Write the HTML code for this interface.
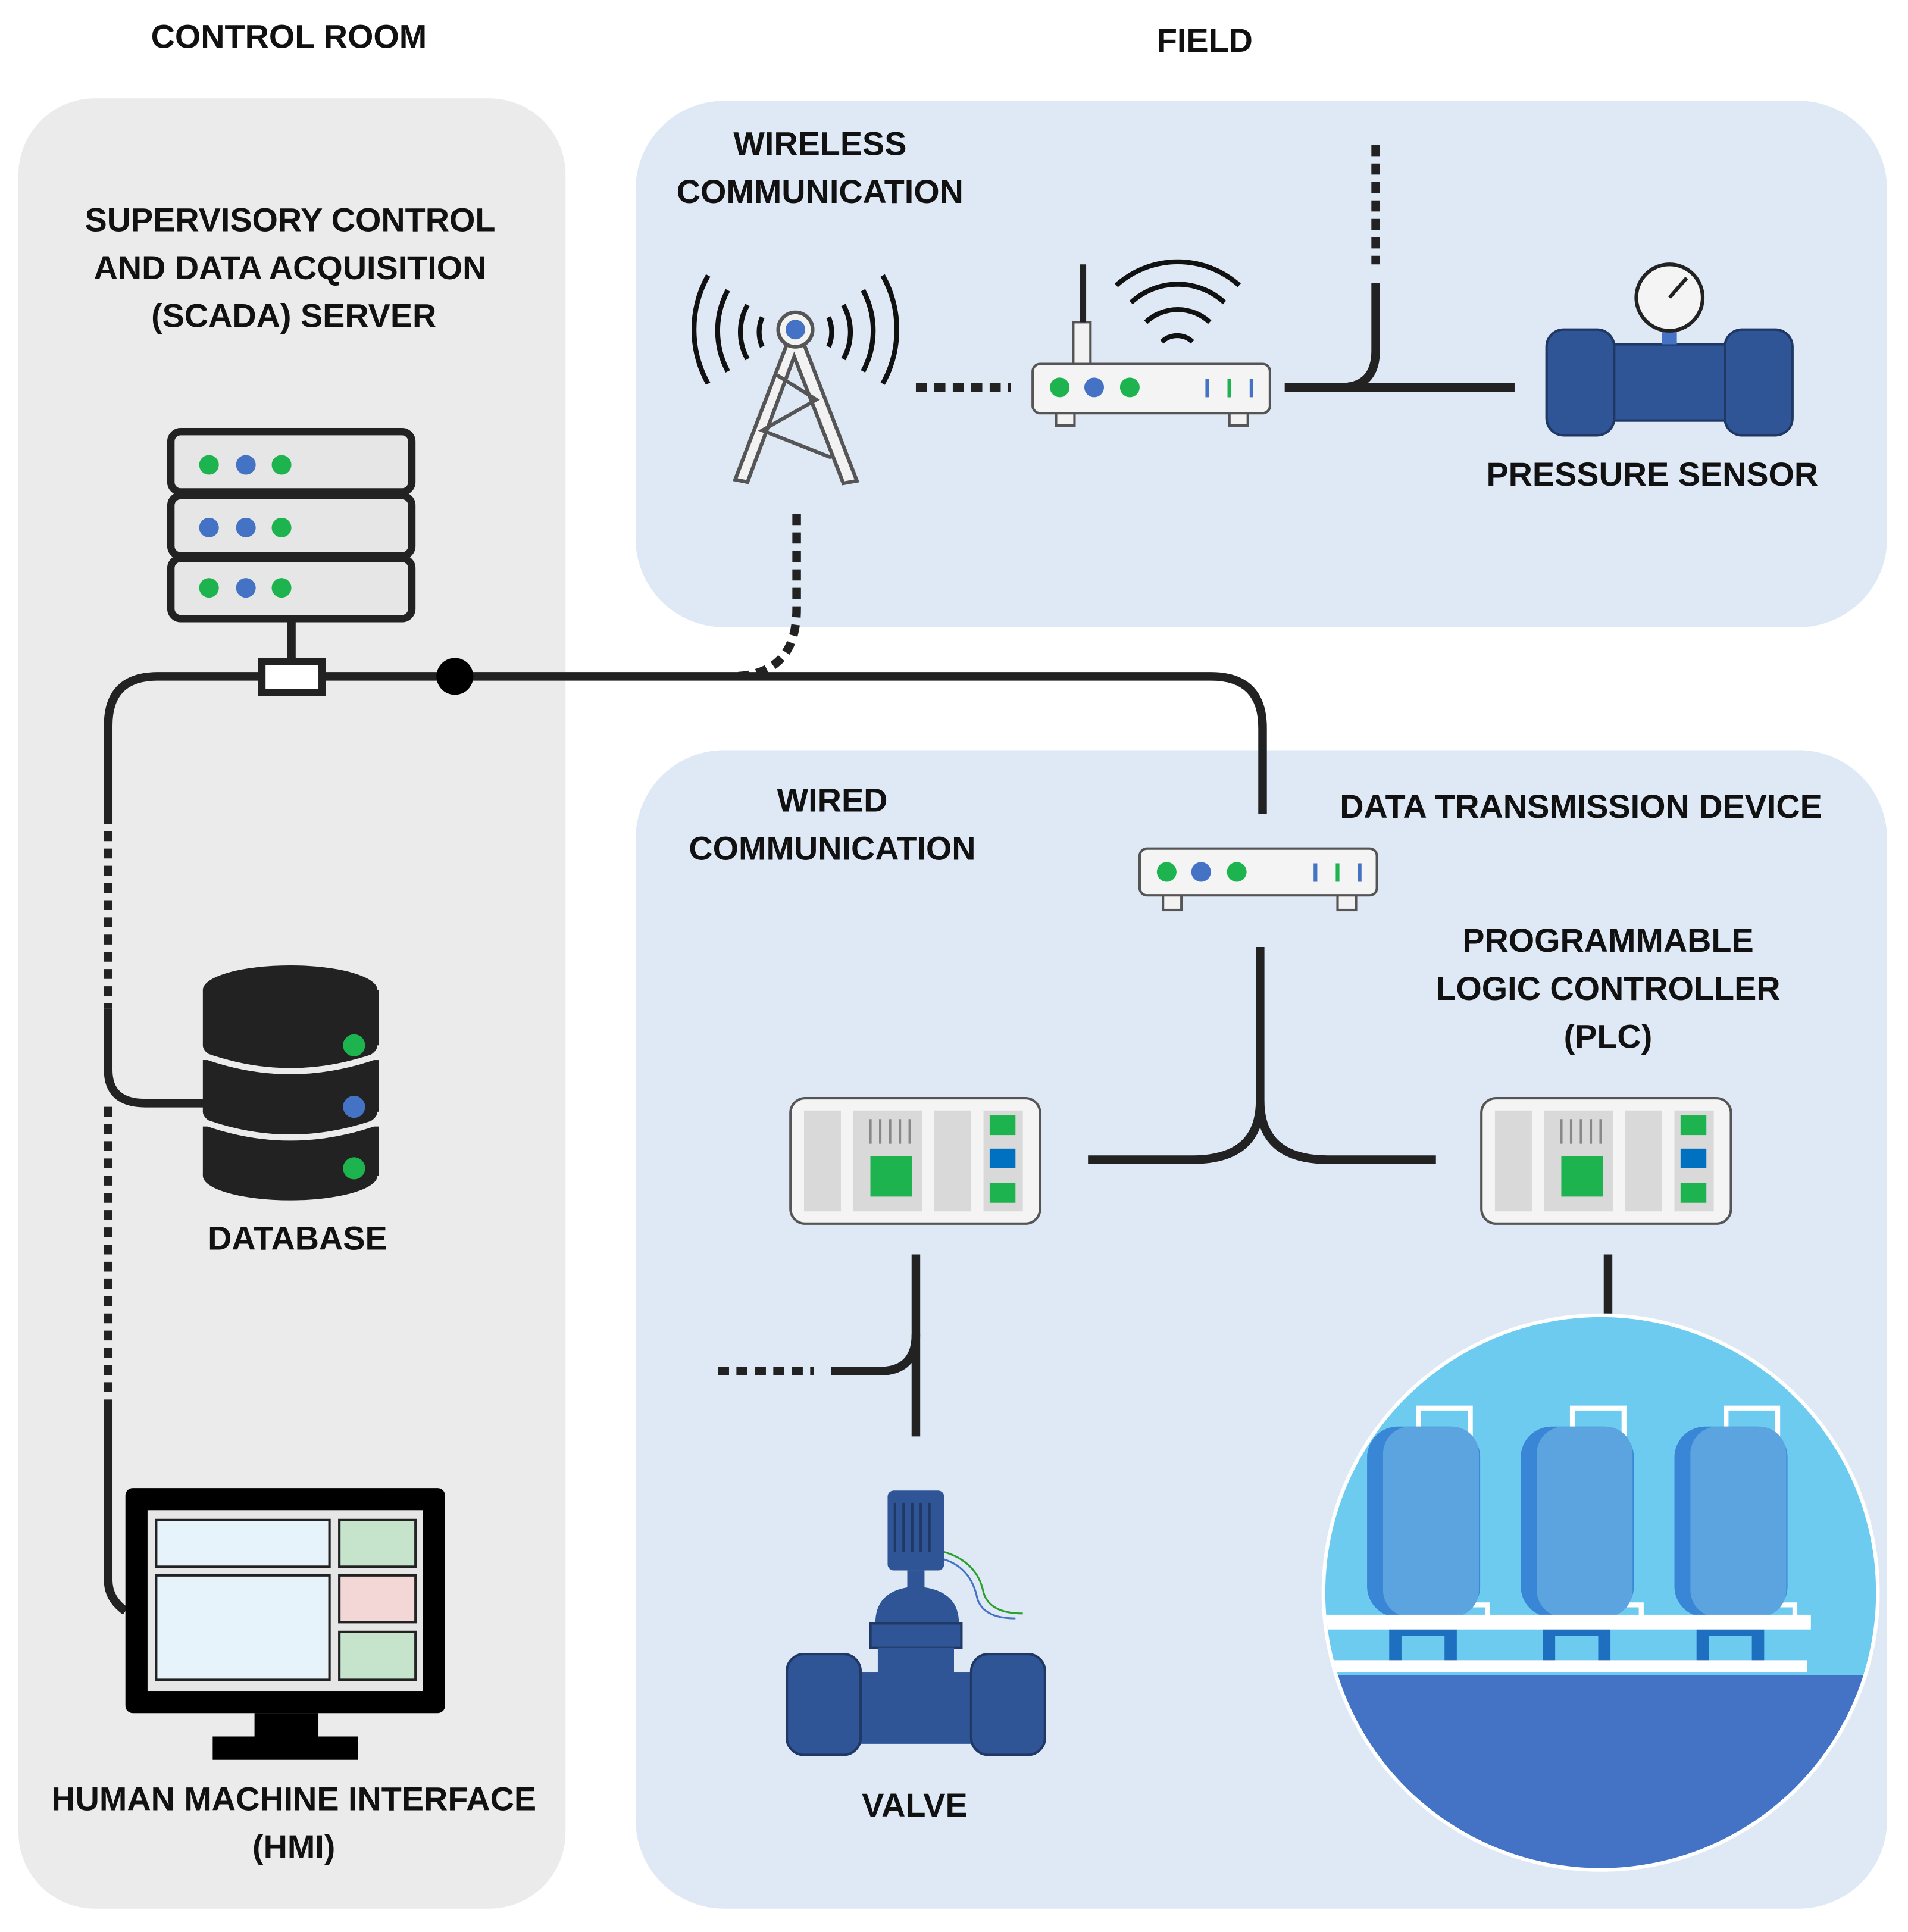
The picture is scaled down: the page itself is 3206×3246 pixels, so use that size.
<!DOCTYPE html>
<html><head><meta charset="utf-8"><style>
html,body{margin:0;padding:0;background:#fff;}
svg{display:block}
text{font-family:"Liberation Sans",sans-serif;font-weight:bold;fill:#111;text-anchor:middle;font-size:27px}
</style></head><body>
<svg width="3206" height="3246" viewBox="0 0 1552 1571" preserveAspectRatio="none" xmlns="http://www.w3.org/2000/svg">
<rect width="1552" height="1571" fill="#fff"/>
<rect x="15" y="80" width="445" height="1472" rx="62" fill="#ebebeb"/>
<rect x="517" y="82" width="1018" height="428" rx="72" fill="#dfe9f5"/>
<rect x="517" y="610" width="1018" height="942" rx="72" fill="#dfe9f5"/>
<text x="235" y="39">CONTROL ROOM</text>
<text x="980" y="42">FIELD</text>
<text x="236" y="188">SUPERVISORY CONTROL</text>
<text x="236" y="227">AND DATA ACQUISITION</text>
<text x="239" y="266">(SCADA) SERVER</text>
<text x="242" y="1016">DATABASE</text>
<text x="239" y="1472">HUMAN MACHINE INTERFACE</text>
<text x="239" y="1511">(HMI)</text>
<text x="667" y="126">WIRELESS</text>
<text x="667" y="165">COMMUNICATION</text>
<text x="1344" y="395">PRESSURE SENSOR</text>
<text x="677" y="660">WIRED</text>
<text x="677" y="699">COMMUNICATION</text>
<text x="1286" y="665">DATA TRANSMISSION DEVICE</text>
<text x="1308" y="774">PROGRAMMABLE</text>
<text x="1308" y="813">LOGIC CONTROLLER</text>
<text x="1308" y="852">(PLC)</text>
<text x="744" y="1477">VALVE</text>

<g fill="none" stroke="#222" stroke-width="7">
<path d="M88 662 V590 Q88 550 128 550 H985 Q1027 550 1027 592 V662"/>
<path d="M237 505 V540"/>
<path d="M88 662 V820" stroke-dasharray="8 6"/>
<path d="M88 820 V870 Q88 897 118 897 H168"/>
<path d="M88 900 V1140" stroke-dasharray="8 6"/>
<path d="M88 1140 V1285 Q88 1300 102 1310"/>
<path d="M648 418 V495 Q648 548 598 550" stroke-dasharray="9 6"/>
<path d="M745 315 H822" stroke-dasharray="9 6"/>
<path d="M1045 315 H1232"/>
<path d="M1119 230 V285 Q1119 315 1090 315"/>
<path d="M1119 118 V215" stroke-dasharray="9 6"/>
<path d="M1025 770 V895 Q1025 943 970 943 H885"/>
<path d="M1025 895 Q1025 943 1080 943 H1168"/>
<path d="M745 1020 V1168"/>
<path d="M745 1085 Q745 1115 715 1115 H676"/>
<path d="M584 1115 H662" stroke-dasharray="9 6"/>
<path d="M1308 1020 V1068"/>
</g>
<rect x="213" y="538" width="49" height="25" fill="#fff" stroke="#222" stroke-width="6"/>
<circle cx="370" cy="550" r="15" fill="#000"/>

<g stroke="#222" stroke-width="6" fill="#e6e6e6">
<rect x="139" y="351" width="196" height="49" rx="8"/>
<rect x="139" y="403" width="196" height="49" rx="8"/>
<rect x="139" y="454" width="196" height="49" rx="8"/>
</g>
<g>
<circle cx="170" cy="378" r="8" fill="#1db34f"/><circle cx="200" cy="378" r="8" fill="#4472c4"/><circle cx="229" cy="378" r="8" fill="#1db34f"/>
<circle cx="170" cy="429" r="8" fill="#4472c4"/><circle cx="200" cy="429" r="8" fill="#4472c4"/><circle cx="229" cy="429" r="8" fill="#1db34f"/>
<circle cx="170" cy="478" r="8" fill="#1db34f"/><circle cx="200" cy="478" r="8" fill="#4472c4"/><circle cx="229" cy="478" r="8" fill="#1db34f"/>
</g>

<g fill="#222">
<rect x="165" y="805" width="143" height="45"/><ellipse cx="236" cy="805" rx="71" ry="20"/><ellipse cx="236" cy="850" rx="71" ry="20"/>
<rect x="165" y="862" width="143" height="42"/><ellipse cx="236" cy="904" rx="71" ry="20"/>
<rect x="165" y="916" width="143" height="40"/><ellipse cx="236" cy="956" rx="71" ry="20"/>
</g>
<path d="M165 858 Q236 884 308 858 M165 912 Q236 938 308 912" stroke="#ebebeb" stroke-width="5" fill="none"/>
<circle cx="288" cy="850" r="9" fill="#1db34f"/><circle cx="288" cy="900" r="9" fill="#4472c4"/><circle cx="288" cy="950" r="9" fill="#1db34f"/>

<rect x="102" y="1210" width="260" height="183" rx="6" fill="#000"/>
<rect x="120" y="1228" width="224" height="147" fill="#e6e6e6"/>
<rect x="127" y="1236" width="141" height="38" fill="#e7f3fb" stroke="#222" stroke-width="2"/>
<rect x="127" y="1281" width="141" height="85" fill="#e7f3fb" stroke="#222" stroke-width="2"/>
<rect x="276" y="1236" width="62" height="38" fill="#c6e3cc" stroke="#222" stroke-width="2"/>
<rect x="276" y="1281" width="62" height="38" fill="#f3d6d6" stroke="#222" stroke-width="2"/>
<rect x="276" y="1327" width="62" height="39" fill="#c6e3cc" stroke="#222" stroke-width="2"/>
<rect x="207" y="1393" width="52" height="20" fill="#000"/>
<rect x="173" y="1412" width="118" height="19" fill="#000"/>

<g fill="none" stroke="#111" stroke-width="4">
<path d="M620 258 A30 30 0 0 0 620 282 M608 248 A45 45 0 0 0 608 292 M592 236 A70 70 0 0 0 592 302 M576 224 A90 90 0 0 0 576 312"/>
<path d="M674 258 A30 30 0 0 1 674 282 M686 248 A45 45 0 0 1 686 292 M702 236 A70 70 0 0 1 702 302 M718 224 A90 90 0 0 1 718 312"/>
</g>
<path d="M640 280 L598 390 L608 392 L646 290 L686 393 L697 391 L654 280 Z" fill="#f2f2f2" stroke="#555" stroke-width="3"/>
<path d="M632 305 L664 325 L620 350 L676 372" fill="none" stroke="#555" stroke-width="3"/>
<circle cx="647" cy="268" r="14" fill="#f2f2f2" stroke="#555" stroke-width="3"/>
<circle cx="647" cy="268" r="8" fill="#4472c4"/>

<g>
<rect x="873" y="262" width="14" height="34" fill="#f2f2f2" stroke="#555" stroke-width="2"/>
<path d="M881 215 V262" stroke="#222" stroke-width="5"/>
<g fill="none" stroke="#111" stroke-width="4"><path d="M945 278 A18 18 0 0 1 970 278 M932 262 A38 38 0 0 1 984 262 M920 246 A56 56 0 0 1 996 246 M908 232 A75 75 0 0 1 1008 232"/></g>
<rect x="859" y="333" width="15" height="13" fill="#f2f2f2" stroke="#555" stroke-width="2"/>
<rect x="1000" y="333" width="15" height="13" fill="#f2f2f2" stroke="#555" stroke-width="2"/>
<rect x="840" y="296" width="193" height="40" rx="6" fill="#f4f4f4" stroke="#555" stroke-width="2"/>
<circle cx="862" cy="315" r="8" fill="#1db34f"/><circle cx="890" cy="315" r="8" fill="#4472c4"/><circle cx="919" cy="315" r="8" fill="#1db34f"/>
<path d="M982 308 v15 M1000 308 v15 M1018 308 v15" stroke-width="3" stroke="#4472c4"/>
<path d="M1000 308 v15" stroke-width="3" stroke="#1db34f"/>
</g>
<g>
<rect x="946" y="727" width="15" height="13" fill="#f2f2f2" stroke="#555" stroke-width="2"/>
<rect x="1088" y="727" width="15" height="13" fill="#f2f2f2" stroke="#555" stroke-width="2"/>
<rect x="927" y="690" width="193" height="38" rx="6" fill="#f4f4f4" stroke="#555" stroke-width="2"/>
<circle cx="949" cy="709" r="8" fill="#1db34f"/><circle cx="977" cy="709" r="8" fill="#4472c4"/><circle cx="1006" cy="709" r="8" fill="#1db34f"/>
<path d="M1070 702 v15 M1106 702 v15" stroke-width="3" stroke="#4472c4"/>
<path d="M1088 702 v15" stroke-width="3" stroke="#1db34f"/>
</g>

<rect x="1300" y="280" width="115" height="62" fill="#2f5597" stroke="#1f3864" stroke-width="2"/>
<rect x="1258" y="268" width="55" height="86" rx="14" fill="#2f5597" stroke="#1f3864" stroke-width="2"/>
<rect x="1403" y="268" width="55" height="86" rx="14" fill="#2f5597" stroke="#1f3864" stroke-width="2"/>
<rect x="1352" y="264" width="12" height="16" fill="#4472c4"/>
<circle cx="1358" cy="242" r="27" fill="#f4f4f4" stroke="#222" stroke-width="3"/>
<path d="M1358 242 L1372 226" stroke="#222" stroke-width="3"/>

<g id="plc">
<rect x="643" y="893" width="203" height="102" rx="12" fill="#f4f4f4" stroke="#555" stroke-width="2"/>
<rect x="654" y="903" width="30" height="82" fill="#d9d9d9"/>
<rect x="694" y="903" width="56" height="82" fill="#d9d9d9"/>
<rect x="760" y="903" width="30" height="82" fill="#d9d9d9"/>
<rect x="800" y="903" width="32" height="82" fill="#d9d9d9"/>
<path d="M708 910 v20 M716 910 v20 M724 910 v20 M732 910 v20 M740 910 v20" stroke="#888" stroke-width="2"/>
<rect x="708" y="940" width="34" height="33" fill="#1db34f"/>
<rect x="805" y="907" width="21" height="16" fill="#1db34f"/>
<rect x="805" y="934" width="21" height="16" fill="#0070c0"/>
<rect x="805" y="962" width="21" height="16" fill="#1db34f"/>
</g>
<use href="#plc" x="562" y="0"/>

<rect x="722" y="1212" width="46" height="65" rx="5" fill="#2f5597"/>
<path d="M728 1222 v40 M735 1222 v40 M742 1222 v40 M749 1222 v40 M756 1222 v40" stroke="#1f3864" stroke-width="2"/>
<rect x="738" y="1277" width="14" height="14" fill="#2f5597"/>
<path d="M712 1320 Q712 1292 745 1290 Q780 1292 780 1320 Z" fill="#2f5597"/>
<rect x="708" y="1320" width="74" height="20" fill="#2f5597" stroke="#1f3864" stroke-width="2"/>
<rect x="714" y="1340" width="62" height="26" fill="#2f5597"/>
<path d="M768 1262 Q795 1270 800 1295 Q805 1312 832 1312" stroke="#2ca02c" stroke-width="1.5" fill="none"/>
<path d="M768 1268 Q790 1275 795 1300 Q800 1316 826 1316" stroke="#4472c4" stroke-width="1.5" fill="none"/>
<rect x="675" y="1360" width="140" height="58" fill="#2f5597"/>
<rect x="640" y="1345" width="60" height="82" rx="14" fill="#2f5597" stroke="#1f3864" stroke-width="2"/>
<rect x="790" y="1345" width="60" height="82" rx="14" fill="#2f5597" stroke="#1f3864" stroke-width="2"/>

<defs><clipPath id="cc"><circle cx="1302" cy="1295" r="224"/></clipPath></defs>
<circle cx="1302" cy="1295" r="227" fill="#fff"/>
<g clip-path="url(#cc)">
<rect x="1070" y="1060" width="470" height="480" fill="#6ecbf0"/>
<rect x="1070" y="1362" width="470" height="180" fill="#4472c4"/>
<g id="tank" fill="none">
<path d="M1154 1245 V1145 H1196 V1305 H1210 V1315" stroke="#fff" stroke-width="4"/>
<rect x="1112" y="1160" width="92" height="155" rx="25" fill="#3a86d6"/>
<rect x="1125" y="1160" width="78" height="155" rx="22" fill="#5ba4e0"/>
<rect x="1130" y="1322" width="55" height="30" fill="#1e6fc0"/>
<rect x="1140" y="1330" width="35" height="22" fill="#6ecbf0"/>
</g>
<use href="#tank" x="125"/>
<use href="#tank" x="250"/>
<rect x="1075" y="1313" width="398" height="12" fill="#fff"/>
<rect x="1085" y="1350" width="385" height="10" fill="#fff"/>
</g>
</svg>
</body></html>
